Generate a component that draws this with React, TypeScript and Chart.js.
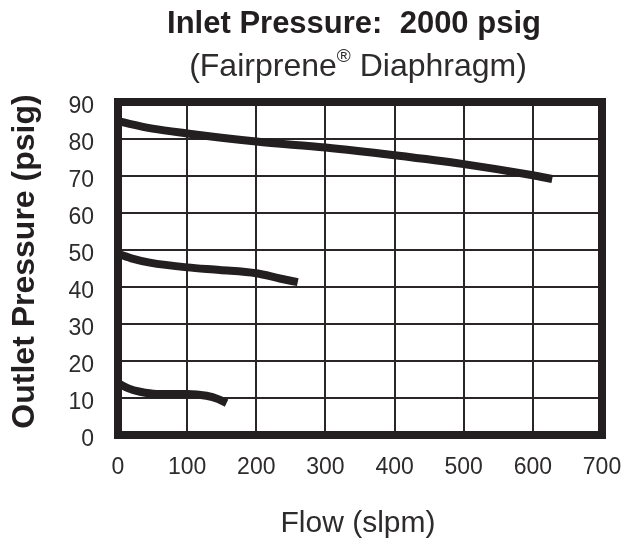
import React, { useEffect, useRef } from "react";
import { Chart, registerables } from "chart.js";

Chart.register(...registerables);

const TITLE = "Inlet Pressure:  2000 psig";
const SUBTITLE_PARTS = ["(Fairprene", "®", " Diaphragm)"];
const X_TITLE = "Flow (slpm)";
const Y_TITLE = "Outlet Pressure (psig)";

const xTickValues = [0, 100, 200, 300, 400, 500, 600, 700];
const yTickValues = [0, 10, 20, 30, 40, 50, 60, 70, 80, 90];

const highFlow = [0, 50, 100, 200, 300, 400, 500, 600, 628];
const highPressure = [84.8, 82.8, 81.5, 79.3, 77.7, 75.6, 73.2, 70.2, 69.2];

const midFlow = [0, 22, 46, 100, 147, 200, 234, 260];
const midPressure = [49.0, 47.6, 46.6, 45.3, 44.6, 43.7, 42.3, 41.3];

const lowFlow = [0, 15, 32, 56, 100, 128, 145, 157];
const lowPressure = [14.0, 12.6, 11.7, 11.1, 11.1, 10.6, 9.7, 8.6];

const INK = "#231f20";
const LIGHT_INK = "#2e2b2c";
const FONT = "'Liberation Sans', Arial, Helvetica, sans-serif";

const toPoints = (xs: number[], ys: number[]) => xs.map((x, i) => ({ x, y: ys[i] }));

const framePlugin = {
  id: "frame",
  afterDatasetsDraw(chart: any) {
    const { ctx, chartArea: a } = chart;
    ctx.save();
    ctx.lineWidth = 8;
    ctx.strokeStyle = INK;
    ctx.lineJoin = "miter";
    ctx.strokeRect(a.left, a.top, a.right - a.left, a.bottom - a.top);
    ctx.restore();
  },
};

const textPlugin = {
  id: "texts",
  afterDraw(chart: any) {
    const { ctx, chartArea: a } = chart;
    ctx.save();
    ctx.fillStyle = INK;
    ctx.textBaseline = "alphabetic";
    ctx.textAlign = "center";
    ctx.font = `bold 31px ${FONT}`;
    ctx.fillText(TITLE, 354, 33);

    // subtitle with superscript ®
    ctx.fillStyle = LIGHT_INK;
    ctx.textAlign = "left";
    const mainFont = `32px ${FONT}`;
    const supFont = `19px ${FONT}`;
    ctx.font = mainFont;
    const w0 = ctx.measureText(SUBTITLE_PARTS[0]).width;
    const w2 = ctx.measureText(SUBTITLE_PARTS[2]).width;
    ctx.font = supFont;
    const w1 = ctx.measureText(SUBTITLE_PARTS[1]).width;
    const total = w0 + w1 + w2;
    let sx = 358 - total / 2;
    ctx.font = mainFont;
    ctx.fillText(SUBTITLE_PARTS[0], sx, 76);
    sx += w0;
    ctx.font = supFont;
    ctx.fillText(SUBTITLE_PARTS[1], sx, 62);
    sx += w1;
    ctx.font = mainFont;
    ctx.fillText(SUBTITLE_PARTS[2], sx, 76);

    ctx.textAlign = "center";
    ctx.font = `30px ${FONT}`;
    ctx.fillText(X_TITLE, 358, 532);

    ctx.fillStyle = INK;
    ctx.translate(34, (a.top + a.bottom) / 2 - 7);
    ctx.rotate(-Math.PI / 2);
    ctx.font = `bold 32px ${FONT}`;
    ctx.fillText(Y_TITLE, 0, 0);
    ctx.restore();
  },
};

export default function App() {
  const ref = useRef<HTMLCanvasElement | null>(null);

  useEffect(() => {
    if (!ref.current) return;
    const lineStyle = {
      borderColor: INK,
      backgroundColor: INK,
      borderWidth: 8,
      pointRadius: 0,
      fill: false,
      cubicInterpolationMode: "monotone" as const,
      borderCapStyle: "butt" as const,
    };
    const chart = new Chart(ref.current, {
      type: "line",
      data: {
        datasets: [
          { label: "High", data: toPoints(highFlow, highPressure), ...lineStyle },
          { label: "Mid", data: toPoints(midFlow, midPressure), ...lineStyle },
          { label: "Low", data: toPoints(lowFlow, lowPressure), ...lineStyle },
        ],
      },
      options: {
        animation: false,
        responsive: false,
        maintainAspectRatio: false,
        layout: { padding: { top: 102, right: 24, left: 0, bottom: 0 } },
        plugins: {
          legend: { display: false },
          tooltip: { enabled: false },
          title: { display: false },
        },
        scales: {
          x: {
            type: "linear",
            min: 0,
            max: 700,
            afterFit: (s: any) => {
              s.height = 108;
              s.paddingLeft = 0;
              s.paddingRight = 0;
            },
            afterBuildTicks: (s: any) => {
              s.ticks = xTickValues.map((v) => ({ value: v }));
            },
            border: { display: false },
            grid: { color: "#2a2627", lineWidth: 2, drawTicks: false },
            ticks: {
              color: LIGHT_INK,
              padding: 19,
              font: { family: FONT, size: 23 },
              maxRotation: 0,
              autoSkip: false,
            },
          },
          y: {
            type: "linear",
            min: 0,
            max: 90,
            afterFit: (s: any) => {
              s.width = 118;
              s.paddingTop = 0;
              s.paddingBottom = 0;
            },
            afterBuildTicks: (s: any) => {
              s.ticks = yTickValues.map((v) => ({ value: v }));
            },
            border: { display: false },
            grid: { color: "#2a2627", lineWidth: 2, drawTicks: false },
            ticks: {
              color: LIGHT_INK,
              padding: 24,
              labelOffset: 5,
              font: { family: FONT, size: 23 },
              autoSkip: false,
            },
          },
        },
      },
      plugins: [framePlugin, textPlugin],
    });
    return () => chart.destroy();
  }, []);

  return (
    <div style={{ position: "absolute", left: 0, top: 0, width: 626, height: 543, background: "#fff" }}>
      <canvas ref={ref} width={626} height={543} style={{ display: "block", width: 626, height: 543 }} />
    </div>
  );
}
